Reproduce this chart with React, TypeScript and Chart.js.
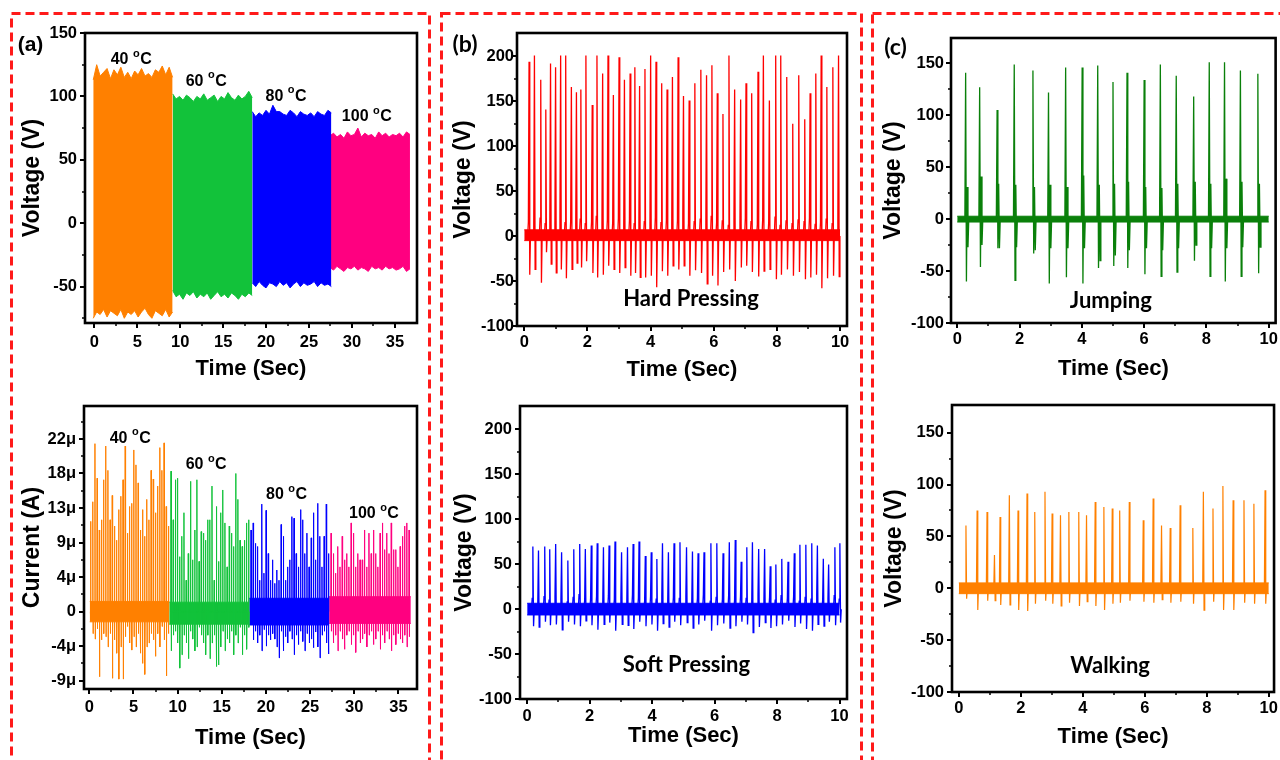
import React, { useEffect, useRef } from 'react';
import { Chart, registerables } from 'chart.js';

Chart.register(...registerables);

const SANS = "'Liberation Sans', Arial, Helvetica, sans-serif";
const HUMAN = "Lato, 'Noto Sans', sans-serif";

// ---------------- (a) top: voltage at four temperatures ----------------
const tempNames = ['40', '60', '80', '100'];
const tempColors = ['#ff8000', '#12c23a', '#0000ff', '#ff0080'];
const vSegStart = [-0.12, 9.12, 18.39, 27.45];
const vSegEnd = [9.12, 18.39, 27.6, 36.75];
const vUpper40 = [113, 125, 116, 119, 122, 114, 121, 117, 123, 115, 119, 114, 120, 117, 122, 116, 118, 115, 121, 119, 124, 117, 123, 115];
const vLower40 = [-75, -70, -72, -68, -74, -69, -71, -73, -68, -75, -70, -72, -69, -74, -70, -67, -72, -75, -69, -71, -73, -68, -74, -70];
const vUpper60 = [102, 98, 100, 97, 101, 99, 96, 100, 98, 102, 97, 99, 101, 96, 100, 98, 103, 99, 97, 101, 98, 100, 104, 99];
const vLower60 = [-53, -58, -56, -60, -55, -57, -54, -59, -56, -58, -55, -60, -57, -54, -58, -56, -59, -55, -57, -60, -56, -58, -55, -57];
const vUpper80 = [88, 84, 87, 85, 89, 86, 93, 88, 88, 86, 85, 89, 87, 84, 88, 86, 85, 87, 84, 88, 86, 85, 89, 87];
const vLower80 = [-47, -50, -46, -49, -51, -47, -48, -50, -46, -49, -47, -51, -48, -46, -50, -47, -49, -48, -46, -50, -47, -49, -48, -50];
const vUpper100 = [69, 71, 68, 70, 67, 72, 69, 70, 75, 68, 71, 69, 70, 67, 72, 69, 71, 68, 70, 69, 71, 68, 72, 70];
const vLower100 = [-35, -37, -34, -36, -38, -35, -36, -34, -37, -35, -36, -38, -34, -36, -35, -37, -34, -36, -35, -37, -36, -34, -38, -36];

// ---------------- (a) bottom: current at four temperatures (µA) ----------------
const iSegStart = [0.15, 9.25, 18.31, 27.37];
const iSegEnd = [8.95, 18.04, 27.07, 36.2];
const iBandStart = [0.05, 9.05, 18.1, 27.15];
const iBandEnd = [9.05, 18.1, 27.15, 36.4];
const iBandHigh = [1.3, 1.2, 1.7, 1.9];
const iBandLow = [-1.3, -1.6, -1.7, -1.5];
const curPeaks40 = [11.5, 14, 21.4, 17, 10.4, 11.7, 16.8, 21.1, 18, 11.7, 14.8, 10.9, 9.1, 13, 14.7, 16.8, 21.1, 10, 13.4, 13.8, 20.6, 18.7, 16.4, 10.4, 13, 9.6, 14.3, 11.7, 18, 16.9, 12.6, 16, 20.9, 18, 21.5, 13.4, 10.9];
const curDips40 = [-1.1, -2.8, -3.5, -2.2, -8.3, -3.6, -2.8, -3.2, -4.5, -2.8, -8.5, -3.6, -5.3, -8.6, -4.5, -8.6, -3.2, -1.9, -4, -4.9, -3.2, -4.5, -2.8, -5.3, -6.6, -8, -4.5, -4, -2.8, -3.6, -5.7, -2.8, -4.5, -1.9, -3.6, -8.2, -2.8];
const curPeaks60 = [17.9, 11.7, 16.8, 17, 7, 9.6, 12.6, 4, 7.4, 16.6, 6.6, 10.4, 16.8, 6.4, 10.2, 10, 9.1, 11.7, 11.7, 16, 4, 13.4, 6.4, 12.6, 15.5, 11.3, 5.7, 10.9, 10, 8.3, 17.6, 14.3, 9.1, 8.3, 9.1, 11.3, 11.7];
const curDips60 = [-5, -3, -2.5, -4, -7.2, -5.5, -3, -4, -6, -2.5, -3.5, -5, -4.5, -2, -3, -4, -5.5, -3, -6, -4, -3, -7, -6.8, -4.5, -2.5, -5, -3.5, -4, -2.5, -5.5, -3, -4, -2, -5.5, -3, -4.8, -2];
const curPeaks80 = [10.4, 11.3, 8.7, 8.3, 4, 13.7, 4.9, 12.9, 7.4, 4, 6.6, 3.6, 5.3, 4, 11.1, 9.6, 4, 5.7, 6.6, 12.1, 11.9, 7.4, 5.7, 13, 11.7, 7.4, 10, 5.7, 9.4, 12.6, 6.6, 13.8, 9.6, 5.7, 9.6, 13.7, 7.4];
const curDips80 = [-1.7, -3.6, -2.5, -4, -3, -5, -2.3, -4.4, -3, -3.6, -2.8, -3.5, -4.5, -5.9, -2.5, -5, -3.2, -4, -2.5, -3.5, -5.5, -3, -4.2, -2.5, -3.8, -5, -2.8, -4, -3.5, -4.6, -2.6, -4.5, -5.9, -3, -2.5, -4, -5.4];
const curPeaks100 = [10, 7.4, 4.9, 8.3, 5.7, 9.6, 6.6, 7.4, 5.7, 11.3, 10, 5.7, 7.4, 6.6, 6.6, 10.4, 5.7, 10, 7.4, 10.4, 7.4, 5.7, 10, 11.3, 7.9, 10, 7.4, 11.3, 7.9, 7.9, 5.7, 8.3, 9.6, 10.9, 11.3, 10.4];
const curDips100 = [-2.5, -4, -3, -5, -2.5, -3.5, -4.8, -3, -2.5, -4.2, -3, -5.2, -2.5, -4, -3.5, -2.8, -4.5, -3, -2.5, -4.2, -3.5, -2.5, -4.8, -3, -4, -2.5, -3.5, -5, -3, -4.2, -2.8, -3.5, -4, -3, -4.5, -3.2];

// ---------------- (b) top: hard pressing ----------------
const hardTimes = [0.13, 0.30, 0.50, 0.66, 0.81, 0.97, 1.13, 1.29, 1.47, 1.63, 1.77, 1.93, 2.13, 2.28, 2.46, 2.63, 2.80, 2.98, 3.15, 3.33, 3.48, 3.63, 3.80, 3.98, 4.15, 4.33, 4.50, 4.67, 4.85, 5.02, 5.20, 5.38, 5.57, 5.75, 5.92, 6.09, 6.27, 6.46, 6.64, 6.83, 7.00, 7.18, 7.38, 7.55, 7.74, 7.94, 8.10, 8.29, 8.48, 8.67, 8.86, 9.03, 9.21, 9.38, 9.56, 9.75, 9.93];
const hardPeaks = [194, 201, 174, 141, 192, 188, 201, 201, 166, 160, 163, 201, 146, 201, 181, 201, 157, 199, 174, 181, 188, 167, 186, 201, 194, 170, 163, 177, 199, 156, 151, 170, 185, 179, 190, 159, 136, 201, 163, 152, 170, 159, 183, 201, 151, 201, 201, 177, 125, 179, 130, 159, 181, 201, 166, 188, 201];
const hardDips = [-43, -37, -52, -18, -31, -41, -37, -47, -37, -30, -35, -28, -41, -46, -43, -33, -37, -41, -35, -44, -41, -46, -46, -44, -57, -39, -44, -33, -37, -33, -44, -38, -41, -53, -44, -55, -40, -37, -50, -35, -33, -40, -45, -39, -37, -48, -43, -37, -44, -40, -48, -46, -43, -58, -47, -44, -45];
const hardRing = [16, 12, 20, 14, 18, 13, 21, 15, 17, 12, 19, 14, 16, 22, 13, 18, 15, 20, 12, 17, 14, 19, 16, 13, 21, 15, 18, 12, 17, 20, 14, 16, 19, 13, 22, 15, 17, 12, 18, 14, 20, 16, 13, 19, 15, 21, 12, 17, 14, 18, 16, 20, 13, 15, 19, 14, 17];
const hardBand = [7, -5];

// ---------------- (b) bottom: soft pressing ----------------
const softTimes = [0.16, 0.34, 0.54, 0.70, 0.89, 1.08, 1.28, 1.47, 1.66, 1.84, 2.03, 2.22, 2.42, 2.60, 2.79, 3.00, 3.19, 3.37, 3.56, 3.76, 3.95, 4.13, 4.31, 4.50, 4.68, 4.87, 5.08, 5.27, 5.45, 5.64, 5.86, 6.05, 6.25, 6.45, 6.64, 6.83, 7.01, 7.19, 7.39, 7.58, 7.76, 7.94, 8.13, 8.33, 8.53, 8.71, 8.90, 9.09, 9.27, 9.46, 9.63, 9.83, 9.99];
const softPeaks = [69.6, 65.1, 69.6, 66.7, 72.5, 63.3, 54, 66.7, 72.5, 67, 70.7, 73.3, 68.9, 70.7, 75.1, 63.3, 68.9, 72.5, 75.1, 59.2, 63.3, 55.9, 73.3, 63.3, 73.3, 74.3, 68.9, 64, 62.2, 63.3, 73.3, 73.3, 62.2, 74.3, 77, 52.6, 68.9, 74.3, 67, 67, 47.8, 49.6, 55.9, 52.6, 62.2, 71.6, 71.6, 73.3, 70.7, 55.9, 49.6, 68.9, 73.3];
const softDips = [-19, -20, -14, -18, -17, -23, -14, -17, -19, -13, -18, -23, -17, -15, -24, -17, -18, -22, -14, -19, -17, -24, -16, -20, -14, -18, -15, -21, -17, -13, -24, -18, -16, -21, -19, -14, -17, -26, -20, -15, -21, -19, -17, -13, -20, -16, -22, -24, -17, -19, -14, -18, -15];
const softRing = [12, 9, 14, 10, 15, 11, 8, 13, 16, 10, 12, 14, 9, 15, 11, 13, 10, 16, 12, 9, 14, 11, 15, 10, 13, 12, 14, 10, 12, 16, 9, 13, 11, 15, 10, 14, 12, 9, 16, 11, 13, 10, 15, 12, 14, 9, 13, 11, 16, 10, 12, 15, 11];
const softBand = [6.5, -6.5];

// ---------------- (c) top: jumping ----------------
const jumpTimes = [0.27, 0.72, 1.28, 1.83, 2.43, 2.93, 3.48, 4.01, 4.51, 5.00, 5.45, 6.00, 6.52, 7.03, 7.59, 8.09, 8.58, 9.09, 9.65];
const jumpPeaks = [141, 127, 105, 149, 143, 122, 146, 146, 148, 132, 141, 134, 149, 138, 118, 151, 151, 143, 140];
const jumpDips = [-60, -46, -28, -59, -33, -62, -56, -62, -47, -45, -47, -53, -55, -51, -40, -55, -60, -55, -52];
const jumpEcho = [31, 41, 34, 33, 31, 33, 31, 42, 33, 34, 36, 31, 30, 34, 36, 34, 39, 36, 34];
const jumpEchoNeg = [-27, -25, -28, -27, -30, -28, -28, -28, -40, -35, -30, -28, -30, -28, -25, -28, -28, -27, -27];
const jumpBand = [2.8, -2.8];

// ---------------- (c) bottom: walking ----------------
const walkTimes = [0.23, 0.59, 0.91, 1.15, 1.33, 1.63, 1.91, 2.20, 2.45, 2.78, 3.01, 3.28, 3.55, 3.87, 4.12, 4.40, 4.68, 4.95, 5.19, 5.50, 5.95, 6.27, 6.54, 6.82, 7.14, 7.55, 7.89, 8.20, 8.52, 8.85, 9.20, 9.52, 9.88];
const walkPeaks = [60.6, 75, 73.5, 32, 68.7, 89.7, 75, 91.3, 73.5, 93, 72, 70.3, 73.5, 73.5, 70.3, 83.2, 78.4, 76.8, 75, 83.2, 65.5, 86.5, 60.6, 58, 80, 58, 93, 76.8, 98.7, 84.8, 84.8, 81.6, 94.5];
const walkDips = [-10, -21, -12, -12, -16, -16, -21, -22, -15, -12, -15, -17, -14, -17, -13, -17, -21, -15, -14, -12, -13, -14, -11, -14, -13, -15, -21, -13, -21, -21, -14, -15, -15];
const walkBand = [5.2, -5.2];

// ---------------- tick values and labels ----------------
const timeTicksA = [0, 5, 10, 15, 20, 25, 30, 35];
const timeLabelsA = ['0', '5', '10', '15', '20', '25', '30', '35'];
const timeMinorA = [2.5, 7.5, 12.5, 17.5, 22.5, 27.5, 32.5];
const timeTicksBC = [0, 2, 4, 6, 8, 10];
const timeLabelsBC = ['0', '2', '4', '6', '8', '10'];
const timeMinorBC = [1, 3, 5, 7, 9];
const voltTicksA = [-50, 0, 50, 100, 150];
const voltLabelsA = ['-50', '0', '50', '100', '150'];
const voltMinorA = [-75, -25, 25, 75, 125];
const currentTicks = [-8.8, -4.4, 0, 4.4, 8.8, 13.2, 17.6, 22];
const currentLabels = ['-9\u03bc', '-4\u03bc', '0', '4\u03bc', '9\u03bc', '13\u03bc', '18\u03bc', '22\u03bc'];
const currentMinor = [-6.6, -2.2, 2.2, 6.6, 11, 15.4, 19.8, 24.2];
const voltTicksB = [-100, -50, 0, 50, 100, 150, 200];
const voltLabelsB = ['-100', '-50', '0', '50', '100', '150', '200'];
const voltMinorB = [-75, -25, 25, 75, 125, 175];
const voltTicksC = [-100, -50, 0, 50, 100, 150];
const voltLabelsC = ['-100', '-50', '0', '50', '100', '150'];
const voltMinorC = [-75, -25, 25, 75, 125];

// ---------------- dataset builders ----------------
function evenTimes(start: number, end: number, n: number) {
  const out: number[] = [];
  for (let i = 0; i < n; i++) out.push(start + (i * (end - start)) / (n - 1));
  return out;
}

function spikeTrain(times: number[], series: number[][], dt: number) {
  const pts: { x: number; y: number }[] = [];
  times.forEach((t, i) => {
    pts.push({ x: t - dt, y: 0 });
    series.forEach((s, k) => pts.push({ x: t + k * dt, y: s[i] }));
    pts.push({ x: t + series.length * dt, y: 0 });
  });
  return pts;
}

function lineSet(data: any[], color: string, width: number) {
  return { data, borderColor: color, backgroundColor: color, borderWidth: width, pointRadius: 0, fill: false, order: 1 };
}

function bandSets(x0: number, x1: number, hi: number, lo: number, color: string) {
  return [
    { data: [{ x: x0, y: hi }, { x: x1, y: hi }], borderColor: color, backgroundColor: color, borderWidth: 1, pointRadius: 0, fill: '+1', order: 2 },
    { data: [{ x: x0, y: lo }, { x: x1, y: lo }], borderColor: color, backgroundColor: color, borderWidth: 1, pointRadius: 0, fill: false, order: 2 },
  ];
}

function buildTempVoltage() {
  const uppers = [vUpper40, vUpper60, vUpper80, vUpper100];
  const lowers = [vLower40, vLower60, vLower80, vLower100];
  const ds: any[] = [];
  uppers.forEach((u, k) => {
    const ts = evenTimes(vSegStart[k], vSegEnd[k], u.length);
    const c = tempColors[k];
    ds.push({ data: u.map((v, i) => ({ x: ts[i], y: v })), borderColor: c, backgroundColor: c, borderWidth: 1, pointRadius: 0, fill: '+1' });
    ds.push({ data: lowers[k].map((v, i) => ({ x: ts[i], y: v })), borderColor: c, backgroundColor: c, borderWidth: 1, pointRadius: 0, fill: false });
  });
  return ds;
}

function buildTempCurrent() {
  const peaks = [curPeaks40, curPeaks60, curPeaks80, curPeaks100];
  const dips = [curDips40, curDips60, curDips80, curDips100];
  const spikes: any[] = [];
  const bands: any[] = [];
  peaks.forEach((p, k) => {
    const ts = evenTimes(iSegStart[k], iSegEnd[k], p.length);
    spikes.push(lineSet(spikeTrain(ts, [p, dips[k]], 0.03), tempColors[k], 1));
    bands.push(...bandSets(iBandStart[k], iBandEnd[k], iBandHigh[k], iBandLow[k], tempColors[k]));
  });
  return [...spikes, ...bands];
}

function buildHard() {
  return [lineSet(spikeTrain(hardTimes, [hardRing, hardPeaks, hardDips], 0.022), '#ff0000', 1.3), ...bandSets(0, 10, hardBand[0], hardBand[1], '#ff0000')];
}
function buildSoft() {
  return [lineSet(spikeTrain(softTimes, [softRing, softPeaks, softDips], 0.022), '#0000ff', 1.3), ...bandSets(0, 10, softBand[0], softBand[1], '#0000ff')];
}
function buildJump() {
  return [lineSet(spikeTrain(jumpTimes, [jumpPeaks, jumpDips, jumpEcho, jumpEchoNeg], 0.025), '#0a800a', 1.3), ...bandSets(0, 10, jumpBand[0], jumpBand[1], '#0a800a')];
}
function buildWalk() {
  return [lineSet(spikeTrain(walkTimes, [walkPeaks, walkDips], 0.022), '#ff8000', 1.2), ...bandSets(0, 10, walkBand[0], walkBand[1], '#ff8000')];
}

// ---------------- panel layout ----------------
const panels: any[] = [
  {
    canvas: { l: 19, t: 15, r: 427, b: 382 }, area: { l: 85, t: 33, r: 417, b: 323 },
    x: { min: -1.08, max: 37.57, majors: timeTicksA, minors: timeMinorA, labels: timeLabelsA, title: 'Time (Sec)', pad: 5, tickLen: 5 },
    y: { min: -78.7, max: 150, majors: voltTicksA, minors: voltMinorA, labels: voltLabelsA, title: 'Voltage (V)', pad: 3, tickLen: 5 },
    build: buildTempVoltage,
    notes: [
      { kind: 'temp', text: tempNames[0], x: 4.27, y: 129 },
      { kind: 'temp', text: tempNames[1], x: 13.0, y: 112 },
      { kind: 'temp', text: tempNames[2], x: 22.3, y: 100 },
      { kind: 'temp', text: tempNames[3], x: 31.7, y: 84 },
    ],
  },
  {
    canvas: { l: 19, t: 390, r: 427, b: 751 }, area: { l: 84, t: 406, r: 417, b: 689 },
    x: { min: -0.6, max: 37.1, majors: timeTicksA, minors: timeMinorA, labels: timeLabelsA, title: 'Time (Sec)', pad: 3.5, tickLen: 5 },
    y: { min: -9.86, max: 26.2, majors: currentTicks, minors: currentMinor, labels: currentLabels, title: 'Current (A)', pad: 3, tickLen: 5 },
    build: buildTempCurrent,
    notes: [
      { kind: 'temp', text: tempNames[0], x: 4.6, y: 22.1 },
      { kind: 'temp', text: tempNames[1], x: 13.2, y: 18.7 },
      { kind: 'temp', text: tempNames[2], x: 22.3, y: 14.9 },
      { kind: 'temp', text: tempNames[3], x: 32.2, y: 12.5 },
    ],
  },
  {
    canvas: { l: 450, t: 15, r: 858, b: 383 }, area: { l: 517, t: 33, r: 847, b: 326 },
    x: { min: -0.23, max: 10.22, majors: timeTicksBC, minors: timeMinorBC, labels: timeLabelsBC, title: 'Time (Sec)', pad: 2, tickLen: 5 },
    y: { min: -100, max: 226, majors: voltTicksB, minors: voltMinorB, labels: voltLabelsB, title: 'Voltage (V)', pad: 0, tickLen: 3 },
    build: buildHard,
    notes: [{ kind: 'label', text: 'Hard Pressing', x: 5.28, y: -69.8 }],
  },
  {
    canvas: { l: 451, t: 390, r: 858, b: 749 }, area: { l: 520, t: 406, r: 847, b: 699 },
    x: { min: -0.23, max: 10.24, majors: timeTicksBC, minors: timeMinorBC, labels: timeLabelsBC, title: 'Time (Sec)', pad: 2.5, tickLen: 5 },
    y: { min: -100, max: 226, majors: voltTicksB, minors: voltMinorB, labels: voltLabelsB, title: 'Voltage (V)', pad: 3, tickLen: 5 },
    build: buildSoft,
    notes: [{ kind: 'label', text: 'Soft Pressing', x: 5.1, y: -62.4 }],
  },
  {
    canvas: { l: 880, t: 15, r: 1280, b: 382 }, area: { l: 951, t: 38, r: 1277, b: 323 },
    x: { min: -0.2, max: 10.22, majors: timeTicksBC, minors: timeMinorBC, labels: timeLabelsBC, title: 'Time (Sec)', pad: 2, tickLen: 5 },
    y: { min: -100, max: 174.4, majors: voltTicksC, minors: voltMinorC, labels: voltLabelsC, title: 'Voltage (V)', pad: 2, tickLen: 5 },
    build: buildJump,
    notes: [{ kind: 'label', text: 'Jumping', x: 4.93, y: -78.5 }],
  },
  {
    canvas: { l: 881, t: 390, r: 1280, b: 750 }, area: { l: 952, t: 405, r: 1277, b: 692 },
    x: { min: -0.22, max: 10.17, majors: timeTicksBC, minors: timeMinorBC, labels: timeLabelsBC, title: 'Time (Sec)', pad: 2, tickLen: 5 },
    y: { min: -100, max: 176.7, majors: voltTicksC, minors: voltMinorC, labels: voltLabelsC, title: 'Voltage (V)', pad: 3, tickLen: 5 },
    build: buildWalk,
    notes: [{ kind: 'label', text: 'Walking', x: 4.88, y: -74.8 }],
  },
];

function axisOptions(ax: any, horizontal: boolean, size: number) {
  return {
    type: 'linear',
    min: ax.min,
    max: ax.max,
    afterBuildTicks: (s: any) => {
      s.ticks = ax.majors.map((v: number) => ({ value: v }));
    },
    afterFit: (s: any) => {
      if (horizontal) s.height = size;
      else s.width = size;
    },
    grid: { display: false, drawTicks: true, tickLength: ax.tickLen },
    border: { display: false },
    ticks: {
      autoSkip: false,
      maxRotation: 0,
      minRotation: 0,
      padding: ax.pad,
      color: '#000',
      font: { family: SANS, size: 16.5, weight: 'bold' },
      callback: (_v: any, i: number) => ax.labels[i],
    },
    title: {
      display: true,
      text: ax.title,
      color: '#000',
      padding: 0,
      font: { family: SANS, size: horizontal ? 22 : 23, weight: 'bold' },
    },
  };
}

function makeFramePlugin(spec: any) {
  return {
    id: 'originFrame',
    afterDatasetsDraw(chart: any) {
      const { ctx, chartArea: a } = chart;
      const xs = chart.scales.x;
      const ys = chart.scales.y;
      ctx.save();
      ctx.strokeStyle = '#000';
      ctx.lineCap = 'butt';
      ctx.lineWidth = 2;
      ctx.beginPath();
      spec.x.majors.forEach((v: number) => {
        const p = Math.round(xs.getPixelForValue(v));
        ctx.moveTo(p, a.bottom);
        ctx.lineTo(p, a.bottom + 5);
      });
      spec.y.majors.forEach((v: number) => {
        const p = Math.round(ys.getPixelForValue(v));
        ctx.moveTo(a.left, p);
        ctx.lineTo(a.left - 5, p);
      });
      ctx.stroke();
      ctx.lineWidth = 1.5;
      ctx.beginPath();
      spec.x.minors.forEach((v: number) => {
        const p = Math.round(xs.getPixelForValue(v));
        ctx.moveTo(p, a.bottom);
        ctx.lineTo(p, a.bottom + 3);
      });
      spec.y.minors.forEach((v: number) => {
        if (v > spec.y.max || v < spec.y.min) return;
        const p = Math.round(ys.getPixelForValue(v));
        ctx.moveTo(a.left, p);
        ctx.lineTo(a.left - 3, p);
      });
      ctx.stroke();
      ctx.lineWidth = 2.6;
      ctx.strokeRect(a.left, a.top, a.right - a.left, a.bottom - a.top);
      ctx.fillStyle = '#000';
      ctx.textBaseline = 'middle';
      spec.notes.forEach((n: any) => {
        const px = xs.getPixelForValue(n.x);
        const py = ys.getPixelForValue(n.y);
        if (n.kind === 'temp') {
          const big = `bold 16px ${SANS}`;
          const small = `bold 11px ${SANS}`;
          ctx.font = big;
          const w1 = ctx.measureText(n.text + ' ').width;
          const w3 = ctx.measureText('C').width;
          ctx.font = small;
          const w2 = ctx.measureText('o').width;
          const x0 = px - (w1 + w2 + w3) / 2;
          ctx.textAlign = 'left';
          ctx.font = big;
          ctx.fillText(n.text + ' ', x0, py);
          ctx.font = small;
          ctx.fillText('o', x0 + w1, py - 6);
          ctx.font = big;
          ctx.fillText('C', x0 + w1 + w2 + 0.5, py);
        } else {
          ctx.font = `bold 22px ${HUMAN}`;
          ctx.textAlign = 'center';
          ctx.fillText(n.text, px, py);
        }
      });
      ctx.restore();
    },
  };
}

function PanelChart({ spec }: { spec: any }) {
  const ref = useRef<HTMLCanvasElement | null>(null);
  const w = spec.canvas.r - spec.canvas.l;
  const h = spec.canvas.b - spec.canvas.t;
  useEffect(() => {
    if (!ref.current) return;
    const chart = new Chart(ref.current, {
      type: 'line',
      data: { datasets: spec.build() },
      options: {
        animation: false,
        responsive: false,
        maintainAspectRatio: false,
        devicePixelRatio: 1,
        events: [],
        layout: {
          padding: {
            left: 0,
            bottom: 0,
            top: spec.area.t - spec.canvas.t,
            right: spec.canvas.r - spec.area.r,
          },
        },
        plugins: {
          legend: { display: false },
          tooltip: { enabled: false },
          title: { display: false },
        },
        elements: { point: { radius: 0 }, line: { tension: 0 } },
        scales: {
          x: axisOptions(spec.x, true, spec.canvas.b - spec.area.b),
          y: axisOptions(spec.y, false, spec.area.l - spec.canvas.l),
        },
      } as any,
      plugins: [makeFramePlugin(spec)],
    } as any);
    return () => chart.destroy();
  }, [spec]);
  return (
    <canvas
      ref={ref}
      width={w}
      height={h}
      style={{ position: 'absolute', left: spec.canvas.l, top: spec.canvas.t, width: w, height: h }}
    />
  );
}

const panelBorders = [
  { x: 11.5, y: 13.5, w: 418, h: 800 },
  { x: 441.5, y: 13.5, w: 420, h: 800 },
  { x: 872.5, y: 13.5, w: 430, h: 800 },
];

const panelLetters = [
  { text: '(a)', x: 30.5, y: 43, font: SANS, size: 21 },
  { text: '(b)', x: 465, y: 43, font: HUMAN, size: 23 },
  { text: '(c)', x: 895.5, y: 46, font: HUMAN, size: 23 },
];

export default function App() {
  return (
    <div style={{ position: 'fixed', left: 0, top: 0, width: 1280, height: 760, background: '#fff', overflow: 'hidden' }}>
      <svg width={1280} height={760} style={{ position: 'absolute', left: 0, top: 0 }}>
        {panelBorders.map((b, i) => (
          <rect key={i} x={b.x} y={b.y} width={b.w} height={b.h} fill="none" stroke="#ff1a1a" strokeWidth={3} strokeDasharray="9 5" />
        ))}
      </svg>
      {panels.map((p, i) => (
        <PanelChart key={i} spec={p} />
      ))}
      {panelLetters.map((l, i) => (
        <div
          key={i}
          style={{
            position: 'absolute',
            left: l.x,
            top: l.y,
            transform: 'translate(-50%, -50%)',
            fontFamily: l.font,
            fontWeight: 'bold',
            fontSize: l.size,
            lineHeight: 1,
            color: '#000',
            whiteSpace: 'nowrap',
          }}
        >
          {l.text}
        </div>
      ))}
    </div>
  );
}
